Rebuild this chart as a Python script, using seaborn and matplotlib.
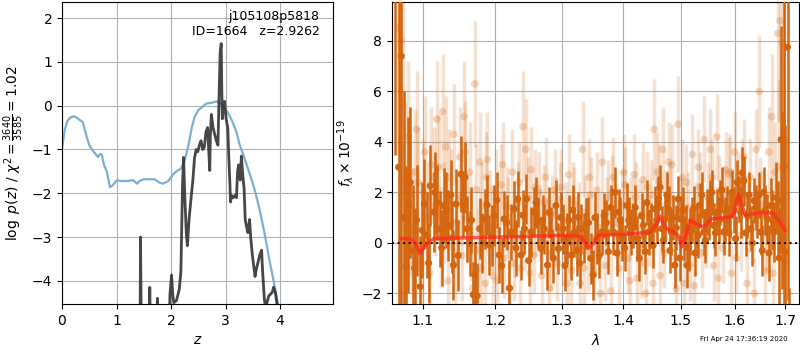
import matplotlib
matplotlib.use('Agg')
import matplotlib.pyplot as plt
import matplotlib.ticker as mticker
import numpy as np
import pandas as pd
import seaborn as sns

# ---- p(z) panel ----
z_prior = [0.0, 0.05, 0.1, 0.15, 0.22, 0.28, 0.33, 0.38, 0.45, 0.5, 0.55, 0.6, 0.66, 0.7, 0.73,
           0.77, 0.82, 0.88, 0.93, 1.0, 1.1, 1.2, 1.3, 1.38, 1.42, 1.5, 1.6, 1.7, 1.78, 1.85,
           1.95, 2.05, 2.12, 2.18, 2.25, 2.32, 2.38, 2.43, 2.5, 2.55, 2.65, 2.75, 2.83, 2.9,
           2.97, 3.04, 3.12, 3.2, 3.26, 3.32, 3.4, 3.48, 3.54, 3.62, 3.72, 3.8, 3.88, 3.97]
logp_prior = [-1.0, -0.55, -0.35, -0.27, -0.24, -0.28, -0.33, -0.37, -0.7, -0.9, -1.0, -1.08,
              -1.17, -1.1, -1.12, -1.35, -1.5, -1.86, -1.82, -1.71, -1.72, -1.72, -1.70, -1.78,
              -1.72, -1.68, -1.68, -1.68, -1.75, -1.78, -1.72, -1.55, -1.48, -1.44, -1.25, -0.9,
              -0.5, -0.26, -0.1, -0.05, 0.05, 0.07, 0.1, 0.06, -0.05, -0.15, -0.35, -0.6, -0.9,
              -1.1, -1.4, -1.7, -1.95, -2.35, -2.95, -3.5, -4.0, -4.6]

z_fit = [1.42, 1.44, 1.46, 1.58, 1.61, 1.63, 1.73, 1.75, 1.77, 1.95, 1.98, 2.01, 2.03, 2.05, 2.1,
         2.15, 2.18, 2.2, 2.21, 2.23, 2.25, 2.28, 2.3, 2.33, 2.36, 2.4, 2.43, 2.46, 2.49, 2.52,
         2.55, 2.58, 2.61, 2.64, 2.67, 2.69, 2.71, 2.72, 2.74, 2.77, 2.8, 2.83, 2.86, 2.88, 2.9,
         2.92, 2.93, 2.94, 2.96, 2.98, 3.01, 3.04, 3.06, 3.08, 3.09, 3.11, 3.14, 3.17, 3.2, 3.22,
         3.24, 3.27, 3.29, 3.31, 3.34, 3.36, 3.39, 3.41, 3.44, 3.46, 3.49, 3.52, 3.54, 3.57, 3.6,
         3.63, 3.66, 3.68, 3.71, 3.73, 3.76, 3.79, 3.83, 3.86, 3.88, 3.91, 3.94, 3.97]
logp_fit = [-8, -3.0, -6, -6, -4.15, -6, -6, -4.4, -6, -6, -4.3, -3.87, -4.3, -4.5, -4.45,
            -4.2, -3.8, -2.5, -1.8, -1.18, -2.0, -2.93, -3.2, -2.6, -2.2, -1.7, -1.2, -1.0, -1.05,
            -0.9, -0.8, -1.0, -0.95, -0.6, -0.5, -1.0, -1.48, -0.7, -0.2, -0.5, -0.65, -0.8, -0.9,
            0.2, 1.2, 1.42, 0.4, -0.3, 0.0, 0.1, -0.3, -0.5, -1.2, -1.8, -2.2, -2.05, -2.1, -2.05,
            -2.1, -1.5, -1.35, -1.7, -1.15, -1.5, -1.9, -2.6, -2.8, -2.9, -2.6, -3.0, -3.4, -3.7,
            -3.9, -3.7, -3.55, -3.4, -3.3, -3.8, -4.4, -4.6, -4.5, -4.35, -4.3, -4.25, -4.15,
            -4.25, -4.5, -5.0]

# ---- spectrum panel: grism orders with good data (dark) ----
wave_a = [1.0645, 1.0688, 1.0721, 1.0755, 1.0786, 1.0838, 1.0870, 1.0920, 1.0969, 1.1022, 1.1060,
          1.1102, 1.1146, 1.1190, 1.1235, 1.1280, 1.1347, 1.1380, 1.1415, 1.1452, 1.1520, 1.1550,
          1.1600, 1.1640, 1.1690, 1.1710, 1.1780, 1.1850, 1.1920, 1.1990, 1.2060, 1.2130, 1.2210,
          1.2230, 1.2280, 1.2330, 1.2380, 1.2430, 1.2460, 1.2530, 1.2580, 1.2630, 1.2680, 1.2730,
          1.2780, 1.2830, 1.2910, 1.2950, 1.3020, 1.3080, 1.3150, 1.3200, 1.3260, 1.3310, 1.3390,
          1.3460, 1.3500, 1.3560, 1.3640, 1.3680, 1.3750, 1.3830, 1.3860, 1.3920, 1.3980, 1.4060,
          1.4120, 1.4170, 1.4230, 1.4310, 1.4370, 1.4430, 1.4480, 1.4540, 1.4600, 1.4660, 1.4720,
          1.4780, 1.4830, 1.4890, 1.4950, 1.5010, 1.5060, 1.5110, 1.5170, 1.5230, 1.5290, 1.5340,
          1.5420, 1.5480, 1.5540, 1.5600, 1.5670, 1.5730, 1.5790, 1.5860, 1.5920, 1.5950, 1.6020,
          1.6080, 1.6150, 1.6180, 1.6250, 1.6310, 1.6380, 1.6440, 1.6510, 1.6570, 1.6640, 1.6710,
          1.6780, 1.6850, 1.6920, 1.6940, 1.7000, 1.7050, 1.7080]
flux_a = [10.5, 3.0, 7.4, 1.0, -0.94, 2.39, -0.3, 0.9, -1.73, 1.54, 0.3, 2.26, 1.22, 1.60, 0.56,
          1.48, 0.69, 1.9, -0.88, 1.54, 2.72, 1.54, 0.56, -0.03, -2.05, -1.27, 0.56, 0.95, -0.09,
          1.08, -0.48, 0.95, -1.79, 0.43, 1.35, 1.74, -0.48, 0.56, 1.74, 0.43, 1.22, 0.82, -0.22,
          0.56, -0.88, 0.43, 1.48, -0.22, 0.56, 0.17, -0.48, 0.43, 1.02, 0.56, 0.76, -0.61, -1.27,
          0.17, 0.43, 1.08, -0.35, 0.43, 2.0, 1.22, 0.17, 1.48, 0.43, 0.69, 0.17, 1.08, -0.35, 0.43,
          0.69, 1.35, 1.74, 0.56, 0.95, 1.35, 0.43, -0.88, 1.74, 0.95, 0.17, -0.88, 0.43, 1.35,
          0.69, 1.48, 0.43, 1.22, 1.61, 0.69, 1.22, 1.61, 0.43, 1.35, 1.08, 2.0, 0.17, 1.74, 2.78,
          2.46, 1.08, 0.56, 1.67, 1.08, 0.43, 2.0, 0.95, 1.48, 0.43, 0.95, 4.09, 1.67, -0.35, 7.75,
          -3.0]
err_a = [7.0, 9.0, 10.0, 5.0, 4.0, 3.0, 2.6, 2.2, 2.0, 1.8, 1.7, 1.6, 1.6, 1.5, 1.5, 1.5, 1.4,
         1.4, 1.4, 1.4, 1.5, 1.3, 1.3, 1.3, 1.3, 1.3, 1.2, 1.2, 1.2, 1.2, 1.1, 1.1, 1.1, 1.1, 1.1,
         1.1, 1.0, 1.0, 1.0, 1.0, 1.0, 1.0, 1.0, 1.0, 1.0, 1.0, 1.0, 1.0, 1.0, 1.0, 1.0, 1.0, 1.0,
         1.0, 1.0, 1.0, 1.0, 1.0, 0.9, 0.9, 0.9, 0.9, 1.0, 0.9, 0.9, 0.9, 0.9, 0.9, 0.9, 0.9, 0.9,
         0.9, 0.9, 0.9, 0.9, 0.9, 0.9, 0.9, 0.9, 0.9, 0.9, 0.9, 0.9, 0.9, 0.9, 0.9, 0.9, 0.9, 0.9,
         0.9, 0.9, 0.9, 0.9, 0.9, 0.9, 0.9, 0.9, 0.9, 0.9, 0.9, 1.0, 1.0, 0.9, 0.9, 0.9, 0.9, 0.9,
         1.0, 1.0, 1.1, 1.2, 1.5, 4.5, 3.5, 5.0, 10.0, 1.2]

wave_a2 = [1.0810, 1.0895, 1.0995, 1.1080, 1.1165, 1.1255, 1.1320, 1.1400, 1.1480, 1.1575, 1.1665,
           1.1745, 1.1815, 1.1885, 1.1955, 1.2025, 1.2095, 1.2170, 1.2305, 1.2405, 1.2495, 1.2605,
           1.2705, 1.2805, 1.2870, 1.2985, 1.3050, 1.3115, 1.3175, 1.3235, 1.3285, 1.3355, 1.3425,
           1.3530, 1.3600, 1.3715, 1.3790, 1.3895, 1.3950, 1.4020, 1.4090, 1.4200, 1.4270, 1.4340,
           1.4400, 1.4510, 1.4570, 1.4630, 1.4690, 1.4750, 1.4805, 1.4860, 1.4920, 1.4980, 1.5035,
           1.5090, 1.5140, 1.5200, 1.5260, 1.5315, 1.5380, 1.5450, 1.5510, 1.5570, 1.5635, 1.5700,
           1.5760, 1.5825, 1.5890, 1.5985, 1.6050, 1.6115, 1.6215, 1.6280, 1.6345, 1.6410, 1.6475,
           1.6540, 1.6605, 1.6675, 1.6745, 1.6815, 1.6880, 1.6975]
flux_a2 = [1.5, -1.0, 0.5, -0.8, 2.0, -0.2, 1.3, 0.2, -0.5, 2.6, 0.9, -2.1, 0.0, 1.5, 0.3, 1.7,
           -0.9, 0.8, -0.2, 1.1, -0.7, 1.6, 0.9, 1.2, -0.6, 1.0, -0.9, 0.9, 1.3, -0.3, -0.8, 0.2,
           0.8, 1.0, -0.5, 0.8, 1.4, -0.4, 0.9, -0.2, 0.9, 1.4, -0.6, 0.7, 1.6, -0.1, 0.9, 2.2, 0.1,
           1.9, -0.3, 1.0, 0.6, -0.6, 1.3, 0.6, -0.2, 0.9, -0.4, 0.3, 1.9, 0.1, 1.0, 2.0, 0.4, 0.9,
           2.1, 0.9, 0.4, 1.3, 2.4, 1.2, 0.4, 1.9, 0.0, 1.4, 1.9, -0.3, 1.3, -0.4, 0.9, 1.8, -0.6,
           3.0]
err_a2 = [3.5, 2.4, 1.9, 1.6, 1.6, 1.5, 1.5, 1.4, 1.4, 1.4, 1.3, 1.3, 1.2, 1.2, 1.2, 1.1, 1.1,
          1.1, 1.1, 1.0, 1.0, 1.0, 1.0, 1.0, 1.0, 1.0, 1.0, 1.0, 1.0, 1.0, 1.0, 1.0, 1.0, 1.0, 0.9,
          0.9, 0.9, 0.9, 0.9, 0.9, 0.9, 0.9, 0.9, 0.9, 0.9, 0.9, 0.9, 0.9, 0.9, 0.9, 0.9, 0.9, 0.9,
          0.9, 0.9, 0.9, 0.9, 0.9, 0.9, 0.9, 0.9, 0.9, 0.9, 0.9, 0.9, 0.9, 0.9, 0.9, 0.9, 0.9, 0.9,
          1.0, 0.9, 0.9, 0.9, 0.9, 0.9, 1.0, 1.0, 1.1, 1.2, 1.4, 2.0, 7.0]

# ---- spectrum panel: faint / contaminated data (light) ----
wave_b = [1.068, 1.072, 1.077, 1.081, 1.086, 1.090, 1.094, 1.099, 1.103, 1.107, 1.111, 1.115,
          1.119, 1.124, 1.127, 1.131, 1.134, 1.138, 1.142, 1.146, 1.150, 1.153, 1.156, 1.160,
          1.164, 1.168, 1.171, 1.175, 1.178, 1.182, 1.186, 1.189, 1.193, 1.197, 1.201, 1.205,
          1.209, 1.213, 1.217, 1.221, 1.225, 1.229, 1.233, 1.237, 1.241, 1.245, 1.249, 1.253,
          1.257, 1.261, 1.265, 1.269, 1.273, 1.277, 1.281, 1.285, 1.289, 1.293, 1.297, 1.302,
          1.306, 1.311, 1.315, 1.320, 1.324, 1.329, 1.333, 1.337, 1.342, 1.346, 1.351, 1.356,
          1.360, 1.365, 1.370, 1.374, 1.379, 1.383, 1.388, 1.393, 1.398, 1.403, 1.408, 1.413,
          1.418, 1.423, 1.428, 1.433, 1.438, 1.443, 1.448, 1.453, 1.458, 1.463, 1.468, 1.473,
          1.478, 1.484, 1.489, 1.495, 1.500, 1.505, 1.510, 1.516, 1.521, 1.527, 1.532, 1.538,
          1.543, 1.549, 1.554, 1.560, 1.566, 1.571, 1.577, 1.583, 1.589, 1.594, 1.600, 1.606,
          1.612, 1.618, 1.624, 1.630, 1.636, 1.642, 1.648, 1.654, 1.660, 1.667, 1.673, 1.679,
          1.685, 1.690, 1.695, 1.699]
flux_b = [8.5, 8.0, 2.5, 4.2, 0.5, 2.8, 2.4, -0.8, 3.6, 1.0, 3.1, 2.6, 4.9, 0.2, 5.2, 3.8, -1.5,
          1.7, 4.3, 0.8, 3.4, -0.5, 5.0, 1.0, 2.8, -1.8, 6.3, -0.3, 3.2, 1.5, -1.6, 3.3, 1.2, -1.3,
          2.0, 0.5, 2.3, -0.6, 1.4, -1.8, 2.8, 0.2, 1.6, -1.0, 4.6, 3.7, 1.8, 2.9, -0.5, 1.0, 2.0,
          -1.3, 1.6, 0.3, -1.8, 1.2, 2.1, -0.8, 1.7, -0.2, 0.9, 2.7, -1.1, 1.5, 0.4, -1.6, 3.7, 1.2,
          -0.4, 1.9, -1.2, 2.1, 0.6, 3.2, -0.9, 1.8, -1.9, 2.6, 0.8, -1.0, 1.5, 2.3, -0.6, 1.2, 2.7,
          -1.4, 1.1, 2.5, -2.0, 0.5, 1.9, 4.5, 2.8, -1.3, 3.7, 1.5, 3.2, 3.1, -0.6, 4.7, 1.2, -1.6,
          2.4, -0.9, 3.5, 1.0, 3.0, -0.4, 4.1, 1.8, 3.7, -0.9, 4.2, 2.1, -0.2, 2.9, 2.7, -1.2, 3.6,
          2.2, 0.3, 3.4, -1.6, 2.6, 0.6, 3.7, 6.0, 1.5, -1.1, 3.6, 5.0, 2.8, 8.3, 8.8, 7.9, -0.8]
err_b = [5.0, 5.0, 3.0, 3.0, 2.5, 2.5, 2.2, 2.0, 2.2, 2.0, 2.3, 2.0, 2.3, 2.0, 2.3, 2.0, 1.8,
         2.0, 2.0, 1.8, 2.0, 1.8, 2.2, 1.8, 2.0, 1.8, 2.5, 1.7, 2.0, 1.7, 1.7, 1.9, 1.7, 1.6, 1.7,
         1.6, 1.6, 1.6, 1.6, 1.5, 1.7, 1.6, 1.6, 1.5, 2.2, 2.0, 1.6, 1.7, 1.5, 1.5, 1.6, 1.5, 1.5,
         1.5, 1.5, 1.5, 1.6, 1.5, 1.5, 1.5, 1.5, 1.6, 1.5, 1.5, 1.5, 1.5, 1.9, 1.5, 1.5, 1.5, 1.5,
         1.5, 1.4, 1.8, 1.4, 1.5, 1.4, 1.6, 1.4, 1.4, 1.4, 1.5, 1.4, 1.4, 1.6, 1.4, 1.4, 1.5, 1.4,
         1.4, 1.4, 2.0, 1.6, 1.4, 1.7, 1.4, 1.6, 1.6, 1.4, 1.9, 1.4, 1.4, 1.5, 1.4, 1.6, 1.4, 1.5,
         1.4, 1.7, 1.4, 1.6, 1.4, 1.7, 1.4, 1.4, 1.5, 1.5, 1.4, 1.6, 1.4, 1.4, 1.5, 1.4, 1.5, 1.4,
         1.6, 2.2, 1.4, 1.4, 1.8, 2.5, 2.0, 3.5, 4.0, 5.0, 5.0]

wave_b2 = [1.0745, 1.0835, 1.0920, 1.1010, 1.1090, 1.1170, 1.1215, 1.1290, 1.1360, 1.1440, 1.1515,
           1.1580, 1.1660, 1.1735, 1.1800, 1.1875, 1.1950, 1.2030, 1.2110, 1.2190, 1.2270, 1.2350,
           1.2430, 1.2510, 1.2590, 1.2670, 1.2750, 1.2830, 1.2910, 1.2995, 1.3085, 1.3175, 1.3265,
           1.3350, 1.3440, 1.3530, 1.3620, 1.3720, 1.3810, 1.3905, 1.4005, 1.4105, 1.4205, 1.4305,
           1.4405, 1.4505, 1.4605, 1.4705, 1.4810, 1.4920, 1.5025, 1.5135, 1.5245, 1.5355, 1.5465,
           1.5575, 1.5690, 1.5800, 1.5915, 1.6030, 1.6150, 1.6265, 1.6385, 1.6505, 1.6630, 1.6755,
           1.6875]
flux_b2 = [5.5, 1.5, 4.5, 2.0, -1.2, 1.5, 3.0, 1.2, 2.6, -0.8, 1.8, 3.6, 0.3, 2.1, -1.0, 2.6, 0.6,
           -1.5, 3.1, 1.0, -0.8, 2.4, 0.4, -1.2, 2.2, 0.8, 2.6, -0.4, 1.1, 2.2, -1.6, 1.7, 0.9, -1.0,
           2.6, 0.2, -2.0, 1.2, 2.0, 0.3, 2.8, -1.5, 1.8, -0.8, 2.2, -1.6, 2.4, -0.4, 1.8, -1.8, 2.6,
           1.4, -1.7, 2.2, 0.4, 2.6, -1.4, 1.6, 2.8, -0.6, 2.6, 1.0, -2.0, 2.0, 0.4, -1.2, 3.0]
err_b2 = [4.0, 2.8, 2.3, 2.1, 2.0, 2.0, 2.1, 2.0, 1.9, 1.8, 1.9, 2.0, 1.8, 1.8, 1.7, 1.8, 1.7, 1.6,
          1.7, 1.6, 1.5, 1.6, 1.5, 1.5, 1.5, 1.5, 1.6, 1.5, 1.5, 1.5, 1.5, 1.5, 1.5, 1.5, 1.5, 1.4,
          1.4, 1.4, 1.5, 1.4, 1.5, 1.4, 1.4, 1.4, 1.4, 1.4, 1.5, 1.4, 1.4, 1.4, 1.5, 1.4, 1.4, 1.4,
          1.4, 1.5, 1.4, 1.4, 1.5, 1.4, 1.5, 1.4, 1.4, 1.4, 1.5, 1.8, 3.5]

# ---- best-fit model ----
wave_model = [1.0718, 1.0838, 1.0900, 1.0969, 1.1035, 1.1146, 1.1555, 1.2517, 1.2976, 1.3291,
              1.3360, 1.3425, 1.3506, 1.3588, 1.4113, 1.4456, 1.4560, 1.4631, 1.4690, 1.4749,
              1.4868, 1.4950, 1.5017, 1.5090, 1.5168, 1.5290, 1.5413, 1.5568, 1.5914, 1.6000,
              1.6074, 1.6140, 1.6203, 1.6497, 1.6763, 1.6898, 1.7000]
flux_model = [0.17, 0.17, 0.0, -0.42, -0.09, 0.17, 0.2, 0.26, 0.3, 0.26, 0.05, -0.22, -0.03,
              0.3, 0.35, 0.43, 0.7, 1.05, 0.75, 0.56, 0.43, 0.3, -0.16, 0.3, 0.88, 0.75, 0.63,
              0.95, 1.02, 1.2, 1.93, 1.5, 1.11, 1.19, 1.18, 0.82, 0.5]

fit_color = '#333333'
prior_color = '#7bafd4'
spec_color = '#d4650f'

df_prior = pd.DataFrame({'z': z_prior, 'logp': logp_prior})
df_fit = pd.DataFrame({'z': z_fit, 'logp': logp_fit})
df_a = pd.DataFrame({'wave': wave_a + wave_a2, 'flux': flux_a + flux_a2, 'err': err_a + err_a2})
df_b = pd.DataFrame({'wave': wave_b + wave_b2, 'flux': flux_b + flux_b2, 'err': err_b + err_b2})
df_model = pd.DataFrame({'wave': wave_model, 'flux': flux_model})

fig = plt.figure(figsize=(8, 3.5), dpi=100)
ax1 = fig.add_axes([62 / 800, 46 / 350, 271 / 800, 302 / 350])
ax2 = fig.add_axes([392 / 800, 46 / 350, 407 / 800, 302 / 350])

# left: log p(z)
sns.lineplot(data=df_prior, x='z', y='logp', ax=ax1, color=prior_color, lw=1.6,
             sort=False, estimator=None)
sns.lineplot(data=df_fit, x='z', y='logp', ax=ax1, color=fit_color, lw=2, alpha=0.9,
             sort=False, estimator=None)
ax1.set_xlim(0, 4.97)
ax1.set_ylim(-4.53, 2.37)
ax1.set_xticks([0, 1, 2, 3, 4])
ax1.set_yticks([-4, -3, -2, -1, 0, 1, 2])
ax1.grid(True, color='#b0b0b0', lw=0.8)
ax1.set_xlabel('$z$')
ax1.set_ylabel(r'$\log\ p(z)$ / $\chi^2=\frac{3640}{3585}=1.02$')
ax1.text(0.95, 0.975, 'j105108p5818\nID=1664   z=2.9262', transform=ax1.transAxes,
         ha='right', va='top', fontsize=9)

# right: spectrum
ax2.vlines(df_b['wave'], df_b['flux'] - df_b['err'], df_b['flux'] + df_b['err'],
           color=spec_color, alpha=0.2, lw=2.5, zorder=1)
sns.scatterplot(data=df_b, x='wave', y='flux', ax=ax2, color=spec_color, alpha=0.25,
                s=30, edgecolor='none', zorder=2)
ax2.vlines(df_a['wave'], df_a['flux'] - df_a['err'], df_a['flux'] + df_a['err'],
           color=spec_color, alpha=1.0, lw=1.8, zorder=3)
sns.scatterplot(data=df_a, x='wave', y='flux', ax=ax2, color=spec_color, alpha=1.0,
                s=26, edgecolor='none', zorder=4)
ax2.axhline(0, color='k', ls=':', lw=1.5, alpha=0.85, zorder=5)
sns.lineplot(data=df_model, x='wave', y='flux', ax=ax2, color='#ff2a1a', lw=2.5, alpha=0.75,
             sort=False, estimator=None, zorder=6)

ax2.set_xscale('log')
ax2.set_xlim(1.0603, 1.7287)
ax2.set_ylim(-2.42, 9.54)
ax2.xaxis.set_major_locator(mticker.FixedLocator([1.1, 1.2, 1.3, 1.4, 1.5, 1.6, 1.7]))
ax2.xaxis.set_major_formatter(mticker.FormatStrFormatter('%.1f'))
ax2.xaxis.set_minor_locator(mticker.NullLocator())
ax2.set_yticks([-2, 0, 2, 4, 6, 8])
ax2.grid(True, color='#b0b0b0', lw=0.8)
ax2.set_axisbelow(True)
ax2.set_xlabel(r'$\lambda$')
ax2.set_ylabel(r'$f_\lambda\times10^{-19}$')

fig.text(788 / 800, 11 / 350, 'Fri Apr 24 17:36:19 2020', ha='right', va='center', fontsize=5)

fig.savefig('out.png', dpi=100)
